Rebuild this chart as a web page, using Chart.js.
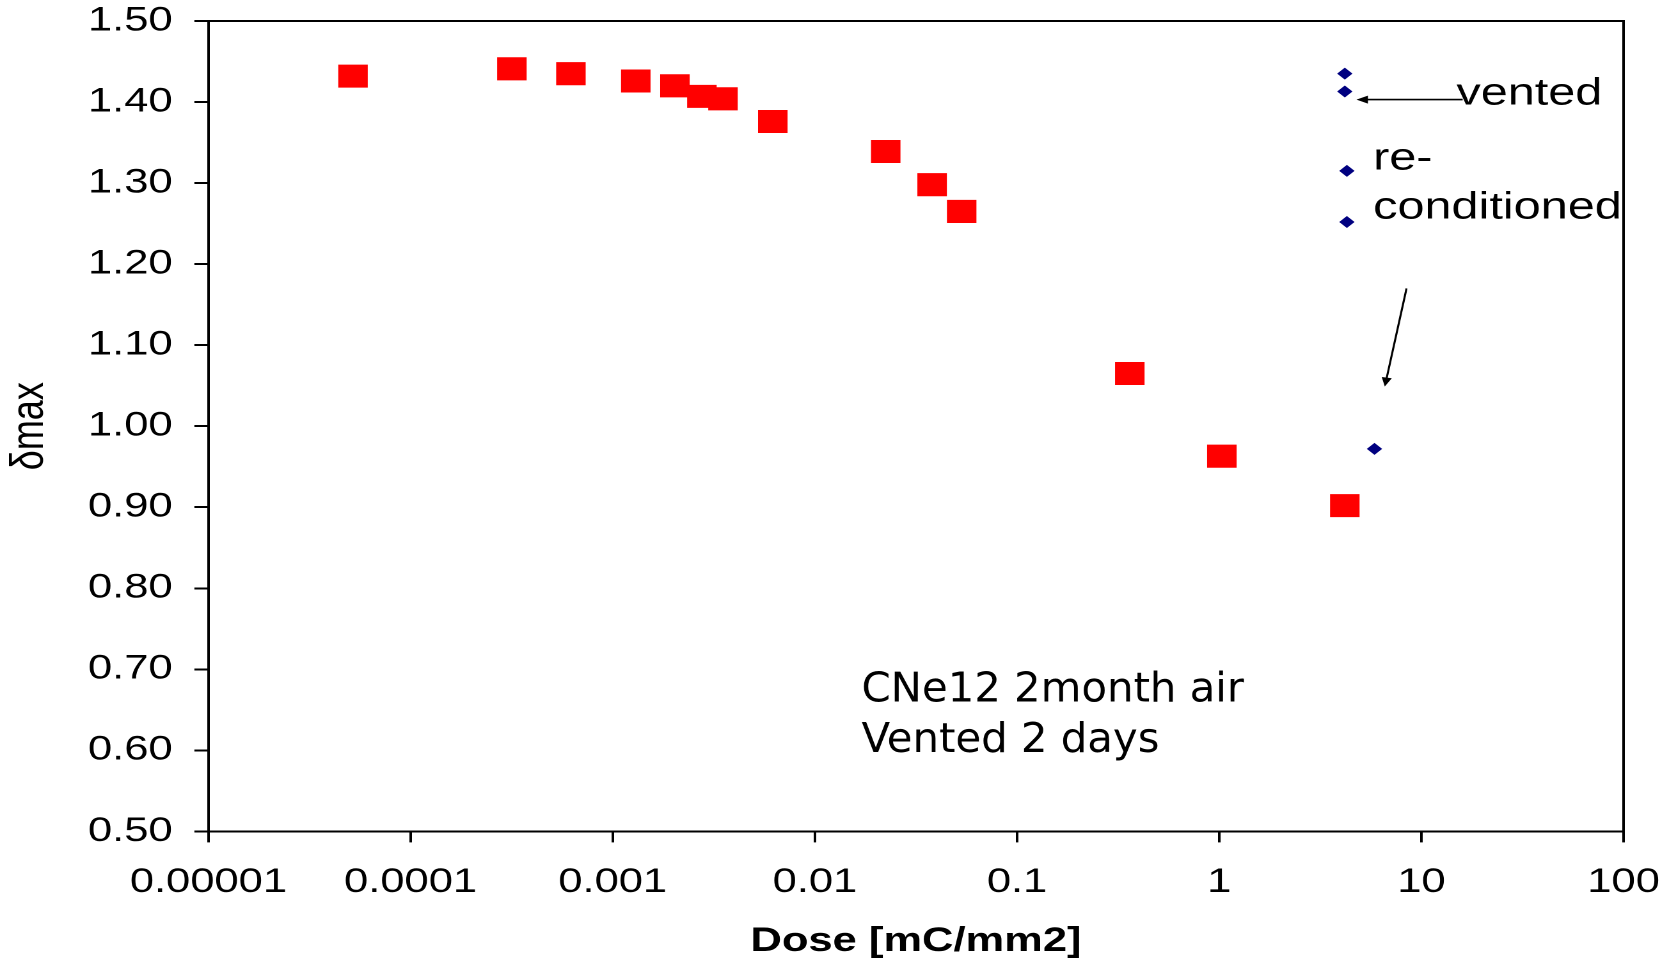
<!DOCTYPE html>
<html>
<head>
<meta charset="utf-8">
<script src="https://cdn.jsdelivr.net/npm/chart.js@4.4.1/dist/chart.umd.min.js"></script>
<style>
  html, body { margin: 0; padding: 0; background: #fff; overflow: hidden; }
  #wrap { width: 1310px; height: 962px; transform: scaleX(1.2794); transform-origin: 0 0; }
</style>
</head>
<body>
<div id="wrap"><canvas id="chartDelta" width="1310" height="962"></canvas></div>
<script>
// red squares: delta max vs dose
const redDose  = [5.19e-5, 3.17e-4, 6.21e-4, 1.30e-3, 2.03e-3, 2.76e-3, 3.51e-3, 6.19e-3, 0.0224, 0.0380, 0.0532, 0.361, 1.03, 4.18];
const redDelta = [1.432, 1.441, 1.435, 1.426, 1.420, 1.407, 1.404, 1.376, 1.339, 1.298, 1.265, 1.065, 0.963, 0.902];

// blue diamonds: vented / re-conditioned
const blueDose  = [4.18, 4.18, 4.28, 4.28, 5.86];
const blueDelta = [1.435, 1.413, 1.315, 1.252, 0.972];

const xTicks = [1e-5, 1e-4, 1e-3, 0.01, 0.1, 1, 10, 100];
const xTickLabels = ['0.00001', '0.0001', '0.001', '0.01', '0.1', '1', '10', '100'];

const noteLines = ['CNe12 2month air', 'Vented 2 days'];

const sans = '"Liberation Sans", Arial, sans-serif';

function toPoints(xs, ys) {
  return xs.map((v, i) => ({x: v, y: ys[i]}));
}

// no extra label padding, the layout padding below decides the plot box
function noPad(axis) {
  axis.paddingTop = 0;
  axis.paddingBottom = 0;
  axis.paddingLeft = 0;
  axis.paddingRight = 0;
}

function arrow(ctx, x1, y1, x2, y2) {
  const ang = Math.atan2(y2 - y1, x2 - x1);
  const len = 9, half = 4;
  ctx.beginPath();
  ctx.moveTo(x1, y1);
  ctx.lineTo(x2 - Math.cos(ang) * len * 0.8, y2 - Math.sin(ang) * len * 0.8);
  ctx.stroke();
  ctx.beginPath();
  ctx.moveTo(x2, y2);
  ctx.lineTo(x2 - Math.cos(ang) * len - Math.sin(ang) * half, y2 - Math.sin(ang) * len + Math.cos(ang) * half);
  ctx.lineTo(x2 - Math.cos(ang) * len + Math.sin(ang) * half, y2 - Math.sin(ang) * len - Math.cos(ang) * half);
  ctx.closePath();
  ctx.fill();
}

const notes = {
  id: 'notes',
  afterDatasetsDraw(chart) {
    const {ctx, chartArea: a, scales: {x, y}} = chart;
    ctx.save();
    ctx.strokeStyle = '#000';
    ctx.fillStyle = '#000';
    ctx.lineWidth = 2;
    // top and right frame
    ctx.beginPath();
    ctx.moveTo(a.left, a.top);
    ctx.lineTo(a.right, a.top);
    ctx.lineTo(a.right, a.bottom);
    ctx.stroke();

    ctx.textBaseline = 'alphabetic';
    ctx.textAlign = 'left';
    ctx.font = '38px ' + sans;
    ctx.fillText('vented', x.getPixelForValue(14.9), y.getPixelForValue(1.397));
    ctx.fillText('re-', x.getPixelForValue(5.77), y.getPixelForValue(1.317));
    ctx.fillText('conditioned', x.getPixelForValue(5.77), y.getPixelForValue(1.256));

    ctx.lineWidth = 1.6;
    arrow(ctx, x.getPixelForValue(16.0), y.getPixelForValue(1.403), x.getPixelForValue(4.77), y.getPixelForValue(1.403));
    arrow(ctx, x.getPixelForValue(8.44), y.getPixelForValue(1.170), x.getPixelForValue(6.59), y.getPixelForValue(1.049));

    // sample note, squeezed to the width seen in the original
    ctx.font = '41px "DejaVu Sans", Verdana, sans-serif';
    const sx = 299 / ctx.measureText(noteLines[0]).width;
    const nx = x.getPixelForValue(0.0170);
    ctx.save();
    ctx.translate(nx, 0);
    ctx.scale(sx, 1);
    ctx.fillText(noteLines[0], 0, y.getPixelForValue(0.660));
    ctx.fillText(noteLines[1], 0, y.getPixelForValue(0.598));
    ctx.restore();
    ctx.restore();
  }
};

new Chart(document.getElementById('chartDelta'), {
  type: 'scatter',
  data: {
    datasets: [{
      label: 'dmax',
      data: toPoints(redDose, redDelta),
      pointStyle: 'rect',
      pointRadius: 16.3,
      pointHoverRadius: 16.3,
      pointBorderWidth: 0,
      pointBackgroundColor: '#ff0000',
      backgroundColor: '#ff0000',
      borderColor: '#ff0000'
    }, {
      label: 'vented',
      data: toPoints(blueDose, blueDelta),
      pointStyle: 'rectRot',
      pointRadius: 6,
      pointHoverRadius: 6,
      pointBorderWidth: 0,
      pointBackgroundColor: '#000080',
      backgroundColor: '#000080',
      borderColor: '#000080'
    }]
  },
  options: {
    responsive: false,
    animation: false,
    devicePixelRatio: 2,
    layout: {padding: {left: 2, right: 41, top: 21, bottom: 0}},
    plugins: {
      legend: {display: false},
      tooltip: {enabled: false}
    },
    scales: {
      x: {
        type: 'logarithmic',
        min: 1e-5,
        max: 100,
        afterBuildTicks: axis => { axis.ticks = xTicks.map(v => ({value: v})); },
        afterFit: axis => { axis.height = 130.6; noPad(axis); },
        ticks: {
          autoSkip: false,
          maxRotation: 0,
          padding: 20,
          color: '#000',
          font: {family: sans, size: 34},
          callback: (v, i) => xTickLabels[i]
        },
        grid: {drawOnChartArea: false, drawTicks: true, tickLength: 11, color: '#000', lineWidth: 2},
        border: {display: true, color: '#000', width: 2},
        title: {
          display: true,
          text: 'Dose [mC/mm2]',
          color: '#000',
          font: {family: sans, size: 34, weight: 'bold'},
          padding: {top: 18, bottom: 0}
        }
      },
      y: {
        min: 0.5,
        max: 1.5,
        afterFit: axis => { axis.width = 160.9; noPad(axis); },
        ticks: {
          stepSize: 0.1,
          autoSkip: false,
          padding: 17,
          color: '#000',
          font: {family: sans, size: 34},
          callback: v => v.toFixed(2)
        },
        grid: {drawOnChartArea: false, drawTicks: true, tickLength: 11, color: '#000', lineWidth: 2},
        border: {display: true, color: '#000', width: 2},
        title: {
          display: true,
          text: 'δmax',
          color: '#000',
          font: {family: sans, size: 36},
          padding: {top: 0, bottom: 24}
        }
      }
    }
  },
  plugins: [notes]
});
</script>
</body>
</html>
